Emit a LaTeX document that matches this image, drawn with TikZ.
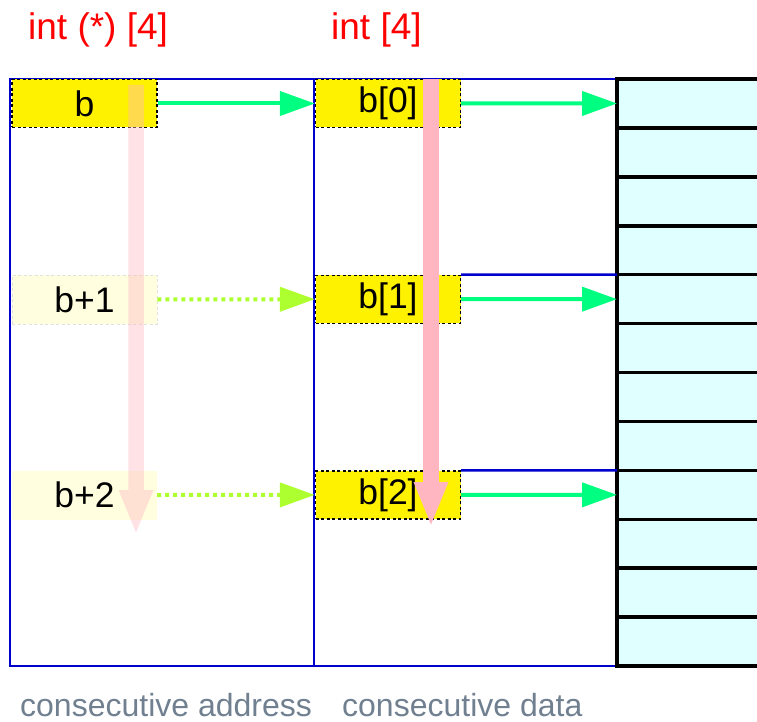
\documentclass[tikz,border=0pt]{standalone}
\usepackage{fontspec}
\setmainfont{Liberation Sans}
\usetikzlibrary{arrows.meta}
\definecolor{myblue}{RGB}{0,0,204}
\definecolor{mygreen}{RGB}{0,255,128}
\definecolor{mygy}{RGB}{173,255,47}
\definecolor{mypink}{RGB}{255,182,193}
\definecolor{mycyan}{RGB}{224,255,255}
\definecolor{myslate}{RGB}{112,128,144}
\definecolor{mylyellow}{RGB}{255,255,224}
\begin{document}
\begin{tikzpicture}[x=1pt,y=-1pt,
  bluebox/.style={draw=myblue, line width=2.5pt, minimum width=#1, minimum height=587pt, anchor=north west, inner sep=0pt, outer sep=0pt},
  cell/.style={draw=black, line width=3.5pt, fill=mycyan, minimum width=170pt, minimum height=48.92pt, anchor=north west, inner sep=0pt, outer sep=0pt},
  ybox/.style={draw=black, dash pattern=on 3pt off 2.5pt, line width=1.3pt, fill=yellow, minimum width=145pt, minimum height=48pt, inner sep=0pt, font=\fontsize{35.5}{40}\selectfont},
  fadebox/.style={fill=mylyellow, minimum width=145pt, minimum height=49pt, inner sep=0pt, font=\fontsize{35.5}{40}\selectfont},
  garrow/.style={draw=mygreen, line width=4pt, -{Triangle[length=35pt,width=24pt]}},
  dotarrow/.style={draw=mygy, line width=4pt, dash pattern=on 4pt off 4pt, -{Triangle[length=35pt,width=24pt]}},
  parrow/.style={draw=mypink, line width=15.5pt, -{Triangle[length=45pt,width=31pt]}},
  title/.style={anchor=base west, inner sep=0pt, text=red, font=\fontsize{37}{40}\selectfont},
  caption/.style={anchor=base west, inner sep=0pt, text=myslate, font=\fontsize{32}{36}\selectfont}
]
\useasboundingbox (0,0) rectangle (757,722);
\clip (0,0) rectangle (757,722);

% titles
\node[title] (t1) at (28,40) {int (*) [4]};
\node[title] (t2) at (331,40) {int [4]};

% blue boxes
\node[bluebox=304pt] (lbox) at (10,79) {};
\node[bluebox=303pt] (mbox) at (314,79) {};

% array cells
\foreach \i in {0,...,11}{
  \node[cell] (c\i) at (617,{79+\i*48.92}) {};
}

% yellow boxes
\node[ybox] (b) at (84.5,103.5) {b};
\node[ybox] (b0) at (388,103.5) {b[0]};
\node[ybox] (b1) at (388,299.2) {b[1]};
\node[ybox] (b2) at (388,494.9) {b[2]};

% blue separators
\draw[myblue, line width=2.5pt] (b1.north east) -- (c4.north west);
\draw[myblue, line width=2.5pt] (b2.north east) -- (c8.north west);

% faded boxes
\node[fadebox, draw=black!12, dash pattern=on 3pt off 2.5pt, line width=0.8pt] (bp1) at (84.5,299.5) {b+1};
\node[fadebox] (bp2) at (84.5,495) {b+2};

% arrows
\draw[garrow] (b.east) -- (b0.west);
\draw[garrow] (b0.east) -- (c0.west);
\draw[garrow] (b1.east) -- (c4.west);
\draw[garrow] (b2.east) -- (c8.west);
\draw[dotarrow] (bp1.east) -- (b1.west);
\draw[dotarrow] (bp2.east) -- (b2.west);

% pink arrows
\coordinate (ps) at (431,79);
\coordinate (pe) at (431,527);
\draw[parrow] (ps) -- (pe);
\coordinate (fs) at (136,85);
\coordinate (fe) at (136,535);
\begin{scope}[transparency group, opacity=0.4]
\draw[parrow] (fs) -- (fe);
\end{scope}

% captions
\node[caption] (cap1) at (20,716) {consecutive address};
\node[caption] (cap2) at (342,716) {consecutive data};
\end{tikzpicture}
\end{document}
